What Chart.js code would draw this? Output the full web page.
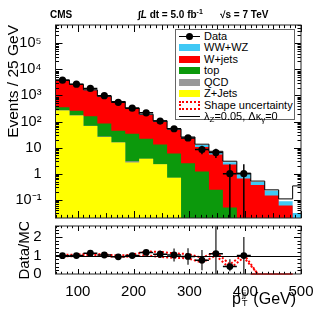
<!DOCTYPE html>
<html lang="en">
<head>
    <meta charset="UTF-8">
    <title>pT(jj) - CMS</title>
    <script src="https://cdn.jsdelivr.net/npm/chart.js@4"></script>
    <style>
        body { margin: 0; background: #fff; font-family: "Liberation Sans", Arial, sans-serif; color: #000; }
        #wrap { position: relative; width: 332px; height: 316px; overflow: hidden; }
        #mainChart { position: absolute; left: 0; top: 0; }
        #ratioChart { position: absolute; left: 0; top: 222px; }
        .hdr { position: absolute; top: 9px; font-size: 10px; font-weight: bold; line-height: 12px; white-space: nowrap; }
        .hdr sup { font-size: 7px; vertical-align: 4px; line-height: 0; }

        #legend { position: absolute; left: 175px; top: 29px; width: 118px; height: 89px; border: 1px solid #666; background: #fff; }
        .item { position: absolute; left: 0; width: 118px; height: 11px; }
        .item .sym { position: absolute; left: 3px; top: 2px; width: 21px; height: 7px; }
        .item .lbl { position: absolute; left: 28px; top: -2px; font-size: 11px; line-height: 14px; white-space: nowrap; }
        .item .lbl sub { font-size: 8px; vertical-align: -2px; line-height: 0; }
        .sym.line { top: 5px; height: 0; border-top: 1px solid #000; }
        .sym.dot { left: 10px; top: 2px; width: 7px; height: 7px; border-radius: 50%; background: #000; }
        .sym.dashbox { top: 1px; width: 17px; height: 5px; border: 2px dotted #f00; background: #fff; }

        #xTitle { position: absolute; left: 232px; top: 290px; font-size: 16px; line-height: 18px; white-space: nowrap; }
        .supsub { display: inline-block; position: relative; width: 8px; height: 10px; }
        .supsub .sup { position: absolute; left: 1px; top: -9px; font-size: 9px; }
        .supsub .sub { position: absolute; left: 1px; top: 0px; font-size: 9px; }
    </style>
</head>
<body>
<div id="wrap">
    <canvas id="mainChart" width="332" height="222"></canvas>
    <canvas id="ratioChart" width="332" height="94"></canvas>

    <div class="hdr" style="left:50px;">CMS</div>
    <div class="hdr" style="left:138px;">&int;<i>L</i> dt = 5.0 fb<sup>-1</sup></div>
    <div class="hdr" style="left:220px;">&radic;s = 7 TeV</div>

    <div id="legend">
        <div class="item" style="top:1px;"><div class="sym line"></div><div class="sym dot"></div><div class="lbl">Data</div></div>
        <div class="item" style="top:12px;"><div class="sym" style="background:#3fc8f5;"></div><div class="lbl">WW+WZ</div></div>
        <div class="item" style="top:23.5px;"><div class="sym" style="background:#ff0000;"></div><div class="lbl">W+jets</div></div>
        <div class="item" style="top:35px;"><div class="sym" style="background:#0c990c;"></div><div class="lbl">top</div></div>
        <div class="item" style="top:46.5px;"><div class="sym" style="background:#999999;"></div><div class="lbl">QCD</div></div>
        <div class="item" style="top:58px;"><div class="sym" style="background:#ffff00;"></div><div class="lbl">Z+Jets</div></div>
        <div class="item" style="top:69.5px;"><div class="sym dashbox"></div><div class="lbl">Shape uncertainty</div></div>
        <div class="item" style="top:81px;"><div class="sym line"></div><div class="lbl">&lambda;<sub>Z</sub>=0.05, &Delta;&kappa;<sub>&gamma;</sub>=0</div></div>
    </div>

    <div id="xTitle">p<span class="supsub"><span class="sup">jj</span><span class="sub">T</span></span> (GeV)</div>
</div>

<script>
    // bin edges (GeV), last bin is cut at 500 by the axis
    const binEdges = [60, 85, 110, 135, 160, 185, 210, 235, 260, 285, 310, 335, 360, 385, 410, 435, 460, 485, 500];

    // stacked MC, events per bin
    const zJets    = [263, 170, 67, 25.5, 15.5, 2.7, 3.7, 2.3, 0.7, 0, 0, 0, 0, 0, 0, 0, 0, 0];
    const qcd      = [5, 3, 2, 1, 0.5, 0.3, 0, 0, 0, 0, 0, 0, 0, 0, 0, 0, 0, 0];
    const topQuark = [87, 83, 91, 58, 28, 31, 18, 10.7, 5.2, 2.5, 1.2, 0.24, 0.05, 0, 0, 0, 0, 0];
    const wJets    = [3395, 2294, 1410, 805, 511, 276, 154, 85, 42, 20.5, 9.4, 5.2, 2.2, 0.66, 0.37, 0.145, 0.06, 0];
    const wwWz     = [120, 90, 60, 45, 25, 15, 10, 6, 3, 1.6, 1.9, 1.2, 0.5, 0.29, 0.11, 0.075, 0.027, 0.031];
    // anomalous coupling prediction (total)
    const lambdaZ  = [3880, 2650, 1640, 940, 585, 330, 190, 106, 52, 25.5, 13.5, 7.2, 3.0, 1.05, 0.52, 0.24, 0.108, 0.34];

    // data
    const dataCenters = [72.5, 97.5, 122.5, 147.5, 172.5, 197.5, 222.5, 247.5, 272.5, 297.5, 322.5, 347.5, 372.5, 397.5];
    const dataEvents  = [3850, 2700, 1850, 980, 545, 323, 215, 104, 52.7, 23.4, 8.4, 6.45, 1, 1];
    const dataErrLow  = [62, 52, 43, 31, 23, 18, 15, 10, 7.3, 4.8, 2.9, 2.5, 1, 1];
    const dataErrHigh = [62, 52, 43, 31, 23, 18, 15, 10, 7.3, 4.8, 3.4, 2.5, 1.3, 1.3];

    // ratio pad
    const ratioValues  = [0.99, 1.0, 1.13, 1.03, 0.93, 1.0, 1.17, 1.07, 1.03, 0.95, 0.75, 1.1, 0.4, 1.0];
    const ratioErrLow  = [0.03, 0.03, 0.04, 0.05, 0.07, 0.08, 0.11, 0.2, 0.35, 0.45, 0.55, 1.1, 0.25, 1.0];
    const ratioErrHigh = [0.03, 0.03, 0.04, 0.05, 0.07, 0.08, 0.11, 0.2, 0.35, 0.45, 0.55, 1.6, 0.4, 1.0];
    const shapeX    = [72.5, 97.5, 122.5, 147.5, 172.5, 197.5, 222.5, 247.5, 272.5, 297.5, 322.5, 347.5, 372.5, 397.5, 422.5];
    const shapeUp   = [1.04, 1.05, 1.1, 1.06, 1.0, 1.04, 1.22, 1.2, 1.12, 1.08, 0.88, 1.2, 0.52, 1.08, 0];
    const shapeDown = [0.96, 0.97, 1.03, 0.98, 0.92, 0.95, 1.02, 0.92, 0.88, 0.85, 0.62, 1.0, 0.3, 0.9, 0];
    const shapeTail = [0, 0, 0, 0];

    // axis ticks
    const mainTickValues = [0.1, 1, 10, 100, 1000, 10000, 100000];
    const mainTickLabels = ['10\u207B\u00B9', '1', '10', '10\u00B2', '10\u00B3', '10\u2074', '10\u2075'];
    const xTickValues = [100, 200, 300, 400, 500];
    const ratioTickValues = [0, 1, 2];

    const FONT = '"Liberation Sans", Arial, sans-serif';

    function cumulate(...series) {
        return series[0].map((_, i) => series.reduce((s, a) => s + a[i], 0));
    }
    // histogram as step line over the bin edges (point i holds bin i, the
    // closing point repeats the last bin); zero is pushed below the log axis
    function stepPoints(vals, floor) {
        return binEdges.map((x, i) => {
            const v = vals[Math.min(i, vals.length - 1)];
            return { x, y: floor ? Math.max(v, 1e-4) : v };
        });
    }
    // keep the plot frame exactly where the layout padding puts it
    function noEdgePadding(s) {
        s.paddingTop = 0;
        s.paddingBottom = 0;
        s.paddingLeft = 0;
        s.paddingRight = 0;
    }

    const cumZ = cumulate(zJets);
    const cumQ = cumulate(zJets, qcd);
    const cumT = cumulate(zJets, qcd, topQuark);
    const cumW = cumulate(zJets, qcd, topQuark, wJets);
    const cumV = cumulate(zJets, qcd, topQuark, wJets, wwWz);

    // frame with inward ticks (ROOT style)
    const frameTicks = {
        id: 'frameTicks',
        afterDraw(chart, args, opts) {
            const { ctx, chartArea: a, scales: { x, y } } = chart;
            ctx.save();
            ctx.strokeStyle = '#000';
            ctx.lineWidth = 1;
            ctx.beginPath();
            for (let v = 60; v <= 500; v += 10) {
                const px = Math.round(x.getPixelForValue(v)) + 0.5;
                const len = v % 100 === 0 ? opts.xMajor : v % 50 === 0 ? opts.xMajor * 0.7 : opts.xMajor * 0.45;
                ctx.moveTo(px, a.bottom); ctx.lineTo(px, a.bottom - len);
                ctx.moveTo(px, a.top); ctx.lineTo(px, a.top + len);
            }
            const drawY = (v, len) => {
                const py = Math.round(y.getPixelForValue(v)) + 0.5;
                if (py < a.top || py > a.bottom) return;
                ctx.moveTo(a.left, py); ctx.lineTo(a.left + len, py);
                ctx.moveTo(a.right, py); ctx.lineTo(a.right - len, py);
            };
            opts.yMajor.forEach(v => drawY(v, 7));
            opts.yMinor.forEach(v => drawY(v, 3.5));
            ctx.stroke();
            if (opts.unity !== undefined) {
                const py = Math.round(y.getPixelForValue(opts.unity)) + 0.5;
                ctx.beginPath();
                ctx.moveTo(a.left, py); ctx.lineTo(a.right, py);
                ctx.stroke();
            }
            ctx.strokeStyle = '#222';
            ctx.strokeRect(a.left, a.top, a.right - a.left, a.bottom - a.top);
            ctx.restore();
        }
    };

    // error bars drawn under the marker dataset (index 0)
    const errorBars = {
        id: 'errorBars',
        beforeDatasetDraw(chart, args, opts) {
            if (args.index !== 0) return;
            const { ctx, chartArea: a, scales: { x, y } } = chart;
            ctx.save();
            ctx.beginPath();
            ctx.rect(a.left, a.top, a.right - a.left, a.bottom - a.top);
            ctx.clip();
            ctx.lineWidth = 1.5;
            opts.centers.forEach((c, i) => {
                const v = opts.values[i];
                const low = v - opts.low[i];
                const yLow = low > 0 ? y.getPixelForValue(low) : a.bottom;
                const yHigh = y.getPixelForValue(v + opts.high[i]);
                const px = x.getPixelForValue(c);
                const py = y.getPixelForValue(v);
                ctx.strokeStyle = opts.vColor;
                ctx.beginPath();
                ctx.moveTo(px, yLow); ctx.lineTo(px, yHigh);
                ctx.stroke();
                ctx.strokeStyle = '#000';
                ctx.beginPath();
                ctx.moveTo(x.getPixelForValue(c - 12.5), py);
                ctx.lineTo(x.getPixelForValue(c + 12.5), py);
                ctx.stroke();
            });
            ctx.restore();
        }
    };

    const logMinor = [];
    for (let d = -2; d <= 5; d++) {
        for (let k = 2; k <= 9; k++) logMinor.push(k * Math.pow(10, d));
    }
    const linMinor = [];
    for (let v = 0; v <= 2.6; v += 0.2) linMinor.push(v);

    const fillSet = (label, vals, color) => ({
        label,
        data: stepPoints(vals, true),
        stepped: 'before',
        borderWidth: 0,
        borderColor: color,
        backgroundColor: color,
        pointRadius: 0,
        fill: 'start'
    });

    new Chart(document.getElementById('mainChart'), {
        type: 'line',
        data: {
            datasets: [
                {
                    label: 'Data',
                    data: dataCenters.map((c, i) => ({ x: c, y: dataEvents[i] })),
                    showLine: false,
                    pointRadius: 3.6,
                    pointBackgroundColor: '#000',
                    pointBorderColor: '#000',
                    pointBorderWidth: 0,
                    clip: false
                },
                {
                    label: 'lambdaZ=0.05, dkappa=0',
                    data: stepPoints(lambdaZ, true),
                    stepped: 'before',
                    borderColor: '#000',
                    borderWidth: 1,
                    pointRadius: 0,
                    fill: false
                },
                fillSet('Z+Jets', cumZ, '#ffff00'),
                fillSet('QCD', cumQ, '#999999'),
                fillSet('top', cumT, '#0c990c'),
                fillSet('W+jets', cumW, '#ff0000'),
                fillSet('WW+WZ', cumV, '#3fc8f5')
            ]
        },
        options: {
            responsive: false,
            animation: false,
            layout: { padding: { left: 0, right: 31, top: 25, bottom: 2 } },
            plugins: {
                legend: { display: false },
                tooltip: { enabled: false },
                frameTicks: { xMajor: 7, yMajor: mainTickValues, yMinor: logMinor },
                errorBars: { centers: dataCenters, values: dataEvents, low: dataErrLow, high: dataErrHigh, vColor: '#000' }
            },
            scales: {
                x: { type: 'linear', min: 60, max: 500, display: false },
                y: {
                    type: 'logarithmic',
                    min: 0.02,
                    max: 500000,
                    grid: { display: false },
                    border: { display: false },
                    afterFit: s => { s.width = 55.5; noEdgePadding(s); },
                    afterBuildTicks: s => { s.ticks = mainTickValues.map(v => ({ value: v })); },
                    ticks: {
                        padding: 6,
                        color: '#000',
                        font: { family: FONT, size: 14.5 },
                        callback: v => mainTickLabels[mainTickValues.indexOf(v)]
                    },
                    title: {
                        display: true,
                        text: 'Events / 25 GeV',
                        align: 'end',
                        color: '#000',
                        font: { family: FONT, size: 15.5 },
                        padding: { top: 4.5, bottom: 0 }
                    }
                }
            }
        },
        plugins: [frameTicks, errorBars]
    });

    const bandSet = (vals) => ({
        data: shapeX.map((c, i) => ({ x: c, y: vals[i] })),
        borderColor: '#ff0000',
        borderWidth: 2,
        borderDash: [2, 2],
        pointRadius: 0,
        fill: false,
        clip: false
    });

    new Chart(document.getElementById('ratioChart'), {
        type: 'line',
        data: {
            datasets: [
                {
                    data: dataCenters.map((c, i) => ({ x: c, y: ratioValues[i] })),
                    showLine: false,
                    pointRadius: 3.4,
                    pointBackgroundColor: '#000',
                    pointBorderColor: '#000',
                    pointBorderWidth: 0
                },
                bandSet(shapeUp),
                bandSet(shapeDown),
                {
                    data: binEdges.slice(14, 18).map((x, i) => ({ x, y: shapeTail[i] })),
                    borderColor: '#ff0000',
                    borderWidth: 1.5,
                    pointRadius: 0,
                    fill: false,
                    clip: false
                }
            ]
        },
        options: {
            responsive: false,
            animation: false,
            layout: { padding: { left: 0, right: 31, top: 1, bottom: 0 } },
            plugins: {
                legend: { display: false },
                tooltip: { enabled: false },
                frameTicks: { xMajor: 5, yMajor: ratioTickValues, yMinor: linMinor, unity: 1 },
                errorBars: { centers: dataCenters, values: ratioValues, low: ratioErrLow, high: ratioErrHigh, vColor: '#444' }
            },
            scales: {
                x: {
                    type: 'linear',
                    min: 60,
                    max: 500,
                    grid: { display: false },
                    border: { display: false },
                    afterFit: s => { s.height = 42; noEdgePadding(s); },
                    afterBuildTicks: s => { s.ticks = xTickValues.map(v => ({ value: v })); },
                    ticks: { padding: 1, color: '#000', maxRotation: 0, font: { family: FONT, size: 15 } }
                },
                y: {
                    type: 'linear',
                    min: 0,
                    max: 2.6,
                    grid: { display: false },
                    border: { display: false },
                    afterFit: s => { s.width = 55.5; noEdgePadding(s); },
                    afterBuildTicks: s => { s.ticks = ratioTickValues.map(v => ({ value: v })); },
                    ticks: { padding: 6, color: '#000', font: { family: FONT, size: 15 } },
                    title: {
                        display: true,
                        text: 'Data/MC',
                        color: '#000',
                        font: { family: FONT, size: 15 },
                        padding: { top: 16, bottom: 0 }
                    }
                }
            }
        },
        plugins: [frameTicks, errorBars]
    });
</script>
</body>
</html>
